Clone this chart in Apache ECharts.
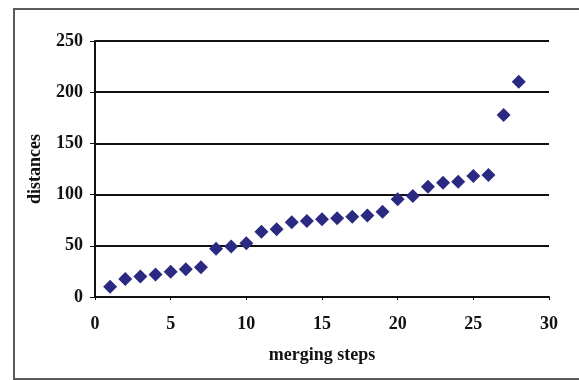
<!DOCTYPE html>
<html><head><meta charset="utf-8">
<script src="https://cdn.jsdelivr.net/npm/echarts@6/dist/echarts.min.js"></script>
<style>html,body{margin:0;padding:0;background:#fff}
#frame{position:absolute;left:13px;top:8px;width:564px;height:368px;border:2px solid #5a5a5a;border-right:none;background:#fff}
#c{position:absolute;left:0;top:0;width:579px;height:380px}</style>
</head><body><div id="frame"></div><div id="c"></div>
<script>
var steps = [1,2,3,4,5,6,7,8,9,10,11,12,13,14,15,16,17,18,19,20,21,22,23,24,25,26,27,28];
var distances = [10,17.6,20,22,24.7,27,29,47.2,49.2,52.4,63.8,66.1,73,74.2,75.9,76.8,78.4,79.7,83.3,95.4,98.6,107.7,111.6,112.6,118.2,119.1,177.7,210.3];
var xTicks = [0,5,10,15,20,25,30];
var yTicks = [0,50,100,150,200,250];
var chart = echarts.init(document.getElementById('c'));
var font = '"Liberation Serif", "Times New Roman", serif';
chart.setOption({
  animation:false,
  grid:{left:95,right:30,top:41,bottom:83},
  xAxis:{type:'value',min:xTicks[0],max:xTicks[xTicks.length-1],interval:5,
    name:'merging steps',nameLocation:'middle',nameGap:49,
    nameTextStyle:{fontFamily:font,fontWeight:'bold',fontSize:18,color:'#111'},
    axisLine:{lineStyle:{color:'#111',width:2}},
    axisTick:{show:true,inside:false,length:3,lineStyle:{color:'#111'}},
    axisLabel:{fontFamily:font,fontWeight:'bold',fontSize:18,color:'#111',margin:18},
    splitLine:{show:false}},
  yAxis:{type:'value',min:yTicks[0],max:yTicks[yTicks.length-1],interval:50,
    name:'distances',nameLocation:'middle',nameGap:51,
    nameTextStyle:{fontFamily:font,fontWeight:'bold',fontSize:18,color:'#111'},
    axisLine:{show:true,lineStyle:{color:'#111',width:2}},
    axisTick:{show:true,length:5,lineStyle:{color:'#111'}},
    axisLabel:{fontFamily:font,fontWeight:'bold',fontSize:18,color:'#111',margin:12},
    splitLine:{show:true,lineStyle:{color:'#111',width:2}}},
  series:[{type:'scatter',symbol:'diamond',symbolSize:14,
    itemStyle:{color:'#2b2a82',opacity:1},
    data:steps.map(function(s,i){return [s,distances[i]];})}]
});
</script></body></html>
